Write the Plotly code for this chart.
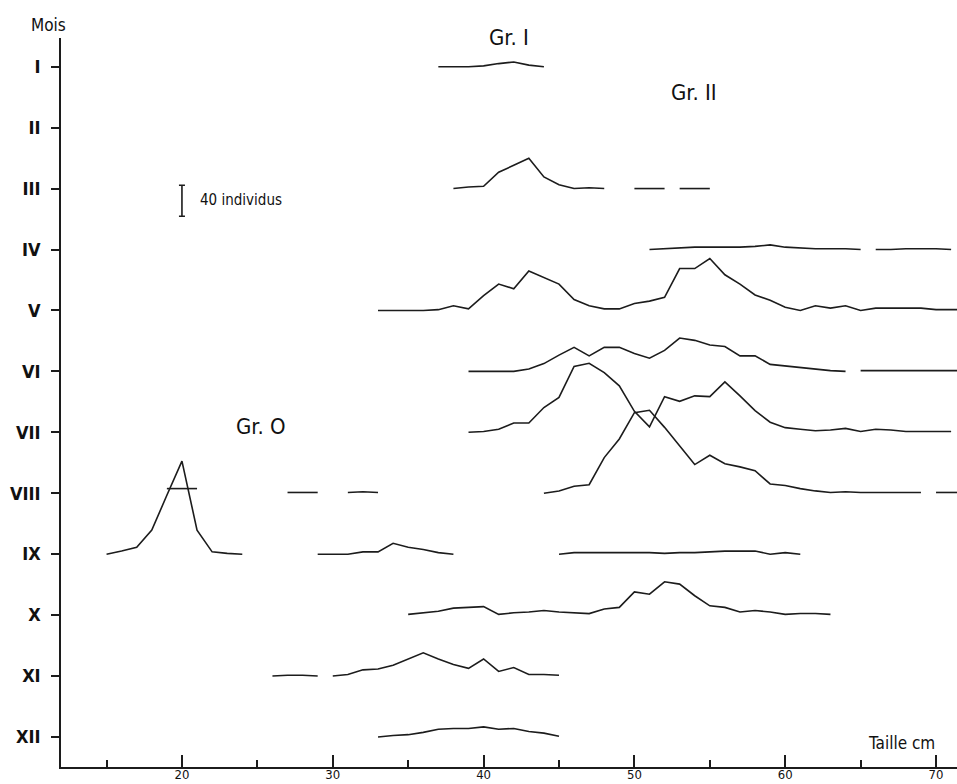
import plotly.graph_objects as go

# ---------------- data (length in cm, number of individuals) ----------------
months = ["I", "II", "III", "IV", "V", "VI", "VII", "VIII", "IX", "X", "XI", "XII"]
x_ticks = [20, 30, 40, 50, 60, 70]
x_minor = [15, 25, 35, 45, 55, 65]

x_I = [37, 38, 39, 40, 41, 42, 43, 44]
n_I = [0, 0, 0, 1, 4, 6, 2, 0]

x_III = [38, 39, 40, 41, 42, 43, 44, 45, 46, 47, 48, None, 50, 51, 52, None, 53, 54, 55]
n_III = [0, 2, 3, 21, 30, 39, 15, 5, 0, 1, 0, None, 0, 0, 0, None, 0, 0, 0]

x_IV = list(range(51, 66)) + [None] + list(range(66, 72))
n_IV = [0, 1, 2, 3, 3, 3, 3, 4, 6, 3, 2, 1, 1, 1, 0, None, 0, 0, 1, 1, 1, 0]

x_V = list(range(33, 73))
n_V = [0, 0, 0, 0, 1, 6, 2, 19, 34, 28, 51, 43, 34, 14, 6, 2, 2, 9, 12, 17,
       54, 54, 67, 46, 34, 20, 13, 4, 0, 6, 3, 6, 0, 3, 3, 3, 3, 1, 1, 1]

x_VI = list(range(39, 65)) + [None] + list(range(65, 73))
n_VI = [0, 0, 0, 0, 3, 10, 21, 31, 20, 31, 31, 23, 17, 27, 43, 40, 34, 32, 20, 20,
        9, 7, 5, 3, 1, 0, None, 1, 1, 1, 1, 1, 1, 1, 1]

x_VII = list(range(39, 72))
n_VII = [0, 1, 4, 12, 12, 32, 45, 85, 89, 77, 60, 27, 7, 46, 40, 47, 46, 65, 47, 28,
         13, 6, 4, 2, 3, 5, 1, 4, 3, 1, 1, 1, 1]

x_VIII = ([19, 20, 21, None, 27, 28, 29, None, 31, 32, 33, None]
          + list(range(44, 70)) + [None, 70, 71, 72])
n_VIII = ([6, 6, 6, None, 1, 1, 1, None, 1, 2, 1, None]
          + [0, 3, 9, 11, 46, 70, 104, 107, 85, 61, 37, 49, 38, 34, 29, 12, 10, 6, 3, 1,
             2, 1, 1, 1, 1, 1] + [None, 1, 1, 1])

x_IX = list(range(15, 25)) + [None] + list(range(29, 39)) + [None] + list(range(45, 62))
n_IX = ([0, 4, 9, 31, 76, 120, 31, 3, 1, 0] + [None]
        + [0, 0, 0, 3, 3, 14, 9, 6, 2, 0] + [None]
        + [0, 2, 2, 2, 2, 2, 2, 1, 2, 2, 3, 4, 4, 4, 0, 2, 0])

x_X = list(range(35, 64))
n_X = [1, 3, 5, 9, 10, 11, 1, 3, 4, 6, 4, 3, 2, 8, 10, 30, 27, 43, 40, 25,
       12, 10, 4, 6, 4, 1, 2, 2, 1]

x_XI = [26, 27, 28, 29, None] + list(range(30, 46))
n_XI = [0, 1, 1, 0, None, 0, 2, 8, 9, 14, 22, 30, 22, 15, 10, 22, 6, 11, 2, 2, 1]

x_XII = list(range(33, 46))
n_XII = [0, 2, 3, 6, 10, 11, 11, 13, 10, 11, 7, 5, 1]

scale_count = 40          # scale bar: 40 individus
scale_x = 20

# ---------------- figure ----------------
SP = 78.6                 # spacing between monthly baselines (in individuals)
INK = "#1c1c1c"

series = [(0, x_I, n_I), (2, x_III, n_III), (3, x_IV, n_IV), (4, x_V, n_V),
          (5, x_VI, n_VI), (6, x_VII, n_VII), (7, x_VIII, n_VIII), (8, x_IX, n_IX),
          (9, x_X, n_X), (10, x_XI, n_XI), (11, x_XII, n_XII)]

fig = go.Figure()
for idx, xs, ns in series:
    ys = [None if n is None else n - idx * SP for n in ns]
    fig.add_trace(go.Scatter(x=xs, y=ys, mode="lines", connectgaps=False,
                             line=dict(color=INK, width=1.6),
                             showlegend=False, hoverinfo="skip"))

# scale bar (40 individus)
bar_bottom = -2 * SP - 35.7
fig.add_trace(go.Scatter(x=[scale_x], y=[bar_bottom + scale_count / 2], mode="markers",
                         marker=dict(size=1, color="rgba(0,0,0,0)"),
                         error_y=dict(type="data", array=[scale_count / 2], symmetric=True,
                                      color=INK, thickness=1.6, width=3),
                         showlegend=False, hoverinfo="skip"))

FONT = "DejaVu Sans Condensed, DejaVu Sans, sans-serif"
W, H = 957, 784
L, R, T, B = 61, 0, 38, 17
pw, ph = W - L - R, H - T - B


def px(xp):
    return (xp - L) / pw


def py(yp):
    return (H - B - yp) / ph


annos = [
    ("Mois", 48, 25, "center", 17),
    ("Gr. I", 509, 37, "center", 22),
    ("Gr. II", 694, 92, "center", 22),
    ("Gr. O", 261, 426, "center", 22),
    ("40 individus", 198, 200, "left", 15),
    ("Taille cm", 937, 743, "right", 17),
]
for text, xp, yp, anchor, size in annos:
    fig.add_annotation(text=text, xref="paper", yref="paper", x=px(xp), y=py(yp),
                       xanchor=anchor, yanchor="middle", showarrow=False,
                       font=dict(family=FONT, size=size, color="#111"))

fig.update_layout(
    width=W, height=H,
    margin=dict(l=L, r=R, t=T, b=B, autoexpand=False),
    paper_bgcolor="white", plot_bgcolor="white",
    font=dict(family=FONT, color="#111"),
    xaxis=dict(range=[11.98, 71.39], showgrid=False, zeroline=False, automargin=False,
               showline=True, linecolor=INK, linewidth=1.5,
               ticks="inside", ticklen=12, tickwidth=1.5, tickcolor=INK,
               tickmode="array", tickvals=x_ticks, ticktext=[str(v) for v in x_ticks],
               tickfont=dict(size=13, family=FONT, color="#111"),
               ticklabelstandoff=-5,
               minor=dict(ticks="inside", ticklen=7, tickwidth=1.5, tickcolor=INK,
                          tickmode="array", tickvals=x_minor, showgrid=False)),
    yaxis=dict(range=[-11 * SP - 38.7, 37.0], showgrid=False, zeroline=False, automargin=False,
               showline=True, linecolor=INK, linewidth=1.5,
               ticks="outside", ticklen=8, tickwidth=1.5, tickcolor=INK,
               tickmode="array", tickvals=[-i * SP for i in range(12)], ticktext=months,
               tickfont=dict(size=18, family=FONT, color="#111", weight="bold"),
               ticklabelstandoff=7),
)

fig.write_html("out.html")
